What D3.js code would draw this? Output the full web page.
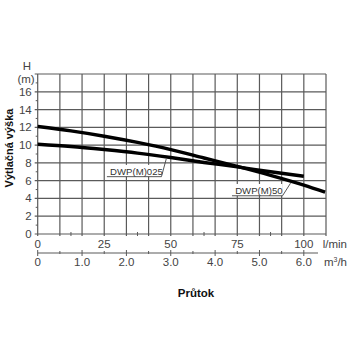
<!DOCTYPE html>
<html><head><meta charset="utf-8">
<script src="https://cdn.jsdelivr.net/npm/d3@7"></script>
<style>body{margin:0;background:#fff}svg{display:block}text{font-family:"Liberation Sans",Arial,sans-serif}</style>
</head><body><svg id="c" width="350" height="350"></svg>
<script>
// Data
const flowLmin = [0, 25, 50, 75, 100];
const flowM3h = [0, 1, 2, 3, 4, 5, 6];
const headTicks = [0, 2, 4, 6, 8, 10, 12, 14, 16];
const q50 = [0, 12.5, 25, 37.5, 50, 62.5, 75, 87.5, 100, 108];
const h50 = [12.1, 11.6, 11.0, 10.3, 9.5, 8.55, 7.6, 6.6, 5.5, 4.7];
const q025 = [0, 12.5, 25, 37.5, 50, 62.5, 75, 87.5, 100];
const h025 = [10.1, 9.85, 9.5, 9.1, 8.6, 8.05, 7.55, 7.0, 6.5];
const seriesNames = ["DWP(M)50", "DWP(M)025"];

const svg = d3.select("#c");
const L = 37.7, R = 326, T = 74, B = 234;
const qMax = 108.333;
const x = d3.scaleLinear().domain([0, qMax]).range([L, R]);
const xm = d3.scaleLinear().domain([0, qMax * 60 / 1000]).range([L, R]);
const y = d3.scaleLinear().domain([0, 18]).range([B, T]);
const gridC = "#5a5a5a", txtC = "#444";

// grid
const g = svg.append("g");
g.selectAll(".v").data(d3.range(0, 14).map(i => i * 25 / 3)).join("line")
  .attr("x1", d => x(d)).attr("x2", d => x(d)).attr("y1", T).attr("y2", B + 2)
  .attr("stroke", gridC).attr("stroke-width", 1.2);
g.selectAll(".h").data(d3.range(0, 19, 2)).join("line")
  .attr("x1", L - 3).attr("x2", R).attr("y1", d => y(d)).attr("y2", d => y(d))
  .attr("stroke", gridC).attr("stroke-width", 1.2);
g.selectAll(".ym").data(d3.range(1, 18, 2)).join("line")
  .attr("x1", L - 2).attr("x2", L).attr("y1", d => y(d)).attr("y2", d => y(d))
  .attr("stroke", gridC).attr("stroke-width", 1);
g.selectAll(".xm").data(d3.range(12.5, 108, 25)).join("line")
  .attr("x1", d => x(d)).attr("x2", d => x(d)).attr("y1", B - 2).attr("y2", B + 2)
  .attr("stroke", gridC).attr("stroke-width", 1);

// y labels
svg.append("g").selectAll("text").data(headTicks).join("text")
  .attr("x", L - 6).attr("y", d => y(d) + 4).attr("text-anchor", "end")
  .attr("font-size", 11.5).attr("fill", txtC).text(d => d);
svg.append("text").attr("x", 27).attr("y", 70).attr("text-anchor", "middle")
  .attr("font-size", 11.5).attr("fill", txtC).text("H");
svg.append("text").attr("x", 26).attr("y", 83).attr("text-anchor", "middle")
  .attr("font-size", 11.5).attr("fill", txtC).text("(m)");
svg.append("text").attr("transform", "translate(13,148) rotate(-90)")
  .attr("text-anchor", "middle").attr("font-size", 11).attr("font-weight", "bold")
  .attr("fill", "#111").text("Výtlačná výška");

// l/min labels
svg.append("g").selectAll("text").data(flowLmin).join("text")
  .attr("x", d => x(d)).attr("y", 248).attr("text-anchor", "middle")
  .attr("font-size", 11.5).attr("fill", txtC).text(d => d);
svg.append("text").attr("x", 347).attr("y", 248).attr("text-anchor", "end")
  .attr("font-size", 11.5).attr("fill", txtC).text("l/min");

// m3/h axis
const ay = 253;
svg.append("line").attr("x1", L).attr("x2", 318).attr("y1", ay).attr("y2", ay)
  .attr("stroke", gridC).attr("stroke-width", 1.2);
svg.append("g").selectAll("line").data(d3.range(0, 6.5, 0.5)).join("line")
  .attr("x1", d => xm(d)).attr("x2", d => xm(d))
  .attr("y1", d => Number.isInteger(d) ? ay - 3 : ay - 2).attr("y2", d => Number.isInteger(d) ? ay + 3 : ay + 1)
  .attr("stroke", gridC).attr("stroke-width", 1);
svg.append("g").selectAll("text").data(flowM3h).join("text")
  .attr("x", d => xm(d)).attr("y", 266).attr("text-anchor", "middle")
  .attr("font-size", 11.5).attr("fill", txtC).text(d => d === 0 ? "0" : d.toFixed(1));
const mt = svg.append("text").attr("x", 347).attr("y", 266).attr("text-anchor", "end")
  .attr("font-size", 11.5).attr("fill", txtC);
mt.append("tspan").text("m");
mt.append("tspan").attr("font-size", 7).attr("dy", -4).text("3");
mt.append("tspan").attr("dy", 4).text("/h");

svg.append("text").attr("x", 196).attr("y", 297).attr("text-anchor", "middle")
  .attr("font-size", 11.5).attr("font-weight", "bold").attr("fill", "#111").text("Průtok");

// curves
const line = d3.line().x(d => x(d[0])).y(d => y(d[1])).curve(d3.curveMonotoneX);
[[q50, h50], [q025, h025]].forEach(([q, h]) => {
  svg.append("path").attr("d", line(q.map((v, i) => [v, h[i]])))
    .attr("fill", "none").attr("stroke", "#000").attr("stroke-width", 3.4);
});

// labels with leaders
function label(name, tq, th, uq0, uq1, uh, cq, curveQ, curveH) {
  const i = d3.bisectLeft(curveQ, cq);
  const t = (cq - curveQ[i - 1]) / (curveQ[i] - curveQ[i - 1]);
  const hv = curveH[i - 1] + t * (curveH[i] - curveH[i - 1]);
  const gg = svg.append("g");
  const bg = gg.append("rect").attr("fill", "#fff");
  const tx = gg.append("text").attr("x", x(tq)).attr("y", y(th)).attr("font-size", 9.6)
    .attr("fill", "#333").text(name);
  const bb = tx.node().getBBox();
  bg.attr("x", x(uq0)).attr("y", bb.y - 1).attr("width", x(uq1) - x(uq0)).attr("height", y(uh) - bb.y + 1);
  gg.append("path").attr("d", d3.line()([[x(uq0), y(uh)], [x(uq1), y(uh)], [x(cq), y(hv) + 2]]))
    .attr("fill", "none").attr("stroke", "#444").attr("stroke-width", 0.9);
}
label(seriesNames[1], 27.2, 6.65, 26, 46.5, 6.45, 48.3, q025, h025);
label(seriesNames[0], 74.2, 4.5, 73, 92, 4.3, 95, q50, h50);
</script></body></html>
